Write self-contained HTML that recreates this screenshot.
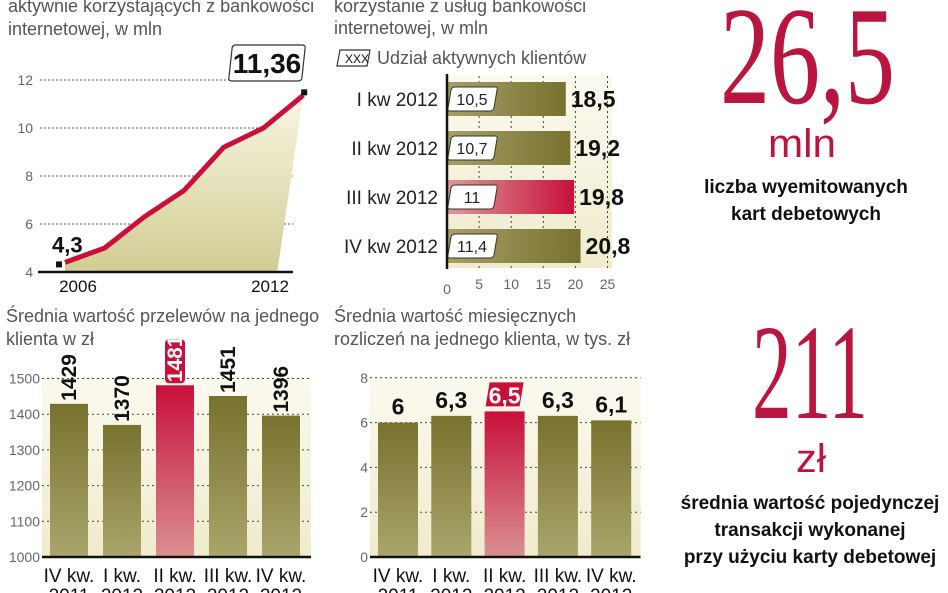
<!DOCTYPE html>
<html><head><meta charset="utf-8">
<style>
html,body{margin:0;padding:0;background:#fff;}
svg{display:block;}
text{font-family:"Liberation Sans Narrow","Liberation Sans",sans-serif;}
.t{fill:#555;font-size:18px;}
.tick{fill:#666;font-size:14px;}
.b{font-weight:bold;fill:#111;}
</style></head>
<body>
<svg id="s" width="948" height="593" viewBox="0 0 948 593">
<defs>
<linearGradient id="olive" x1="0" y1="0" x2="0" y2="1"><stop offset="0" stop-color="#77722e"/><stop offset="1" stop-color="#aaa56c"/></linearGradient>
<linearGradient id="oliveH" x1="0" y1="0" x2="1" y2="0"><stop offset="0" stop-color="#a6a068"/><stop offset="1" stop-color="#77722e"/></linearGradient>
<linearGradient id="red" x1="0" y1="0" x2="0" y2="1"><stop offset="0" stop-color="#c8103a"/><stop offset="1" stop-color="#d99090"/></linearGradient>
<linearGradient id="redH" x1="0" y1="0" x2="1" y2="0"><stop offset="0" stop-color="#dc9a98"/><stop offset="1" stop-color="#c8103a"/></linearGradient>
<linearGradient id="area" x1="0" y1="0" x2="0" y2="1"><stop offset="0" stop-color="#f8f6e4"/><stop offset="1" stop-color="#d2cc93"/></linearGradient>
<linearGradient id="bg" x1="0" y1="0" x2="0" y2="1"><stop offset="0" stop-color="#fbfaf0"/><stop offset="1" stop-color="#efebcc"/></linearGradient>
</defs>

<!-- titles -->
<text class="t" x="8" y="12">aktywnie korzystających z bankowości</text>
<text class="t" x="8" y="35">internetowej, w mln</text>
<text class="t" x="334" y="12">korzystanie z usług bankowości</text>
<text class="t" x="334" y="34">internetowej, w mln</text>
<g>
<path d="M340,50 h30 l-3,16 h-30 z" fill="#fff" stroke="#333" stroke-width="1.2"/>
<text x="345" y="63" font-size="12" fill="#111">XXX</text>
<text class="t" x="377" y="64">Udział aktywnych klientów</text>
</g>
<text class="t" x="6" y="322">Średnia wartość przelewów na jednego</text>
<text class="t" x="6" y="345">klienta w zł</text>
<text class="t" x="334" y="322">Średnia wartość miesięcznych</text>
<text class="t" x="334" y="345">rozliczeń na jednego klienta, w tys. zł</text>

<!-- right panel -->
<g fill="#b8163e" font-family="Liberation Serif,serif">
<text x="720" y="103" font-size="140" textLength="175" lengthAdjust="spacingAndGlyphs" style="font-family:'Liberation Serif',serif">26,5</text>
<text x="768" y="157" font-size="40" textLength="68" lengthAdjust="spacingAndGlyphs" style="font-family:'Liberation Sans Narrow','Liberation Sans',sans-serif">mln</text>
<text x="752" y="418" font-size="136" textLength="116" lengthAdjust="spacingAndGlyphs" style="font-family:'Liberation Serif',serif">211</text>
<text x="796" y="472" font-size="40" textLength="30" lengthAdjust="spacingAndGlyphs" style="font-family:'Liberation Sans Narrow','Liberation Sans',sans-serif">zł</text>
</g>
<g class="b" font-size="19" text-anchor="middle">
<text x="806" y="193" class="b">liczba wyemitowanych</text>
<text x="806" y="220" class="b">kart debetowych</text>
<text x="810" y="509" class="b">średnia wartość pojedynczej</text>
<text x="810" y="536" class="b">transakcji wykonanej</text>
<text x="810" y="563" class="b">przy użyciu karty debetowej</text>
</g>

<g id="c1"></g>
<g id="c2"></g>
<g id="c3"></g>
<g id="c4"></g>
</svg>
<script>
// Chart 1 data
const c1Years = [2006,2007,2008,2009,2010,2011,2012];
const c1Values = [4.4,5.0,6.3,7.4,9.2,10.0,11.36];
const c1Ticks = [4,6,8,10,12];
// Chart 2 data
const c2Cats = ["I kw 2012","II kw 2012","III kw 2012","IV kw 2012"];
const c2Values = [18.5,19.2,19.8,20.8];
const c2Share = ["10,5","10,7","11","11,4"];
const c2Labels = ["18,5","19,2","19,8","20,8"];
const c2Ticks = [0,5,10,15,20,25];
// Chart 3 data
const c3Cats = ["IV kw.|2011","I kw.|2012","II kw.|2012","III kw.|2012","IV kw.|2012"];
const c3Values = [1429,1370,1481,1451,1396];
const c3Ticks = [1000,1100,1200,1300,1400,1500];
// Chart 4 data
const c4Cats = ["IV kw.|2011","I kw.|2012","II kw.|2012","III kw.|2012","IV kw.|2012"];
const c4Values = [6,6.3,6.5,6.3,6.1];
const c4Labels = ["6","6,3","6,5","6,3","6,1"];
const c4Ticks = [0,2,4,6,8];
const highlight = 2;

const NS="http://www.w3.org/2000/svg";
function mk(p,tag,attrs,txt){const e=document.createElementNS(NS,tag);for(const k in attrs)e.setAttribute(k,attrs[k]);if(txt!==undefined)e.textContent=txt;p.appendChild(e);return e;}

// ---- Chart 1
(function(){
const g=document.getElementById('c1');
const y=v=>272-(v-4)*24;
const x=yr=>65+(yr-2006)*39.7;
c1Ticks.forEach(t=>{
  if(t>4){const l=mk(g,'line',{x1:40,x2:293,y1:y(t),y2:y(t),stroke:'#555','stroke-dasharray':'2,2','stroke-width':1});
  
  }
  const tx=mk(g,'text',{x:33,y:y(t)+5,'text-anchor':'end',class:'tick'},t);
  
  
});
let d='M'+x(c1Years[0])+','+y(4);
c1Years.forEach((yr,i)=>d+=' L'+x(yr)+','+y(c1Values[i]));
d+=' L'+(x(2012)-26)+','+y(4)+' Z';
const a=mk(g,'path',{d:d,fill:'url(#area)'});


const pts=c1Years.map((yr,i)=>x(yr)+','+y(c1Values[i])).join(' ');
const ln=mk(g,'polyline',{points:pts,fill:'none',stroke:'#c8103a','stroke-width':5,'stroke-linejoin':'round'});


const ax=mk(g,'line',{x1:38,x2:293,y1:272,y2:272,stroke:'#111','stroke-width':2.5});


const m1=mk(g,'rect',{x:x(2006)-9,y:y(c1Values[0])-1,width:6,height:6,fill:'#111'});


const m2=mk(g,'rect',{x:x(2012)-2,y:y(c1Values[6])-6,width:6,height:6,fill:'#111'});


const l1=mk(g,'text',{x:52,y:y(c1Values[0])-10,class:'b','font-size':22},'4,3');


const bx=mk(g,'path',{d:'M236,45 h66 q4,0 3,4 l-3,28 q0,4 -4,4 h-66 q-4,0 -3,-4 l3,-28 q0,-4 4,-4 z',fill:'#fff',stroke:'#333','stroke-width':1.2});


const l2=mk(g,'text',{x:267,y:73,'text-anchor':'middle',class:'b','font-size':28},'11,36');


[[2006,'2006',78],[2012,'2012',270]].forEach(([yr,s,px])=>{
  const t=mk(g,'text',{x:px,y:292,'text-anchor':'middle','font-size':17,fill:'#111'},s);
  
  
});
})();

// ---- Chart 2
(function(){
const g=document.getElementById('c2');
const x=v=>447+v*6.42;
const bgr=mk(g,'rect',{x:447,y:75,width:165,height:193,fill:'url(#bg)'});


c2Ticks.forEach(t=>{
  if(t>0){const l=mk(g,'line',{x1:x(t),x2:x(t),y1:76,y2:268,stroke:'#444','stroke-dasharray':'2,3'});
  
  }
  const tx=mk(g,'text',{x:x(t),y:t===0?294:289,'text-anchor':'middle',class:'tick'},t);
  
  
});
c2Cats.forEach((c,i)=>{
  const cy=99+i*49;
  const r=mk(g,'rect',{x:447,y:cy-17,width:x(c2Values[i])-447,height:34,fill:i===2?'url(#redH)':'url(#oliveH)'});
  
  
  const lb=mk(g,'text',{x:438,y:cy+7,'text-anchor':'end','font-size':19,fill:'#222'},c);
  
  
  const bx=mk(g,'path',{d:`M${455},${cy-12} h40 q3,0 2,3 l-3,18 q-1,3 -4,3 h-40 q-3,0 -2,-3 l3,-18 q1,-3 4,-3 z`,fill:'#fff',stroke:'#333','stroke-width':1});
  
  
  const st=mk(g,'text',{x:472,y:cy+6,'text-anchor':'middle','font-size':16,fill:'#222'},c2Share[i]);
  
  
  const vl=mk(g,'text',{x:x(c2Values[i])+5,y:cy+8,class:'b','font-size':23},c2Labels[i]);
  
  
});
const ax=mk(g,'line',{x1:447,x2:447,y1:74,y2:269,stroke:'#111','stroke-width':2.5});


})();

// ---- vertical bar charts
function vbar(id,cats,vals,ticks,y,x0,step,bw,pre,labelFn,rotated){
  const g=document.getElementById(id);
  const bgr=mk(g,'rect',{x:x0-8,y:y(ticks[ticks.length-1])-2,width:step*cats.length+4,height:y(ticks[0])-y(ticks[ticks.length-1])+2,fill:'url(#bg)'});
  
  
  ticks.forEach(t=>{
    if(t>ticks[0]){const l=mk(g,'line',{x1:x0-8,x2:x0-4+step*cats.length,y1:y(t),y2:y(t),stroke:'#444','stroke-dasharray':'2,3'});
    
    }
    const tx=mk(g,'text',{x:x0-10,y:y(t)+5,'text-anchor':'end',class:'tick'},t);
    
    
  });
  cats.forEach((c,i)=>{
    const bx=x0+i*step, top=y(vals[i]), base=y(ticks[0]);
    const r=mk(g,'rect',{x:bx,y:top,width:bw,height:base-top,fill:i===highlight?'url(#red)':'url(#olive)'});
    
    
    const cx=bx+bw/2;
    const parts=c.split('|');
    const cl=mk(g,'text',{x:cx,y:582,'text-anchor':'middle','font-size':19,fill:'#111'},parts[0]);
    
    
    const cl2=mk(g,'text',{x:cx,y:602,'text-anchor':'middle','font-size':19,fill:'#111'},parts[1]);
    
    
    const txt=labelFn(i);
    if(rotated){
      if(i===highlight){
        const hb=mk(g,'rect',{x:cx-10,y:top-46,width:20,height:44,rx:4,fill:'#c8103a'});
        
        
      }
      const v=mk(g,'text',{x:0,y:0,class:'b','font-size':21,transform:`translate(${cx+7},${top-3}) rotate(-90)`,fill:i===highlight?'#fff':'#111'},txt);
      if(i===highlight)v.setAttribute('style','fill:#fff');
      
      
    } else {
      if(i===highlight){
        const hb=mk(g,'path',{d:`M${cx-15},${top-29} h34 l-4,24 h-34 z`,fill:'#c8103a'});
        
        
      }
      const v=mk(g,'text',{x:cx,y:i===highlight?top-8:top-8,'text-anchor':'middle',class:'b','font-size':23},txt);
      if(i===highlight)v.setAttribute('style','fill:#fff');
      
      
    }
  });
  const ax=mk(g,'line',{x1:x0-8,x2:x0-4+step*cats.length,y1:y(ticks[0]),y2:y(ticks[0]),stroke:'#111','stroke-width':2.5});
  
  
}
vbar('c3',c3Cats,c3Values,c3Ticks,v=>557-(v-1000)*0.357,50,53,38,'c3',i=>String(c3Values[i]),true);
vbar('c4',c4Cats,c4Values,c4Ticks,v=>557-v*22.4,378,53.3,40,'c4',i=>c4Labels[i],false);
</script>
</body></html>
